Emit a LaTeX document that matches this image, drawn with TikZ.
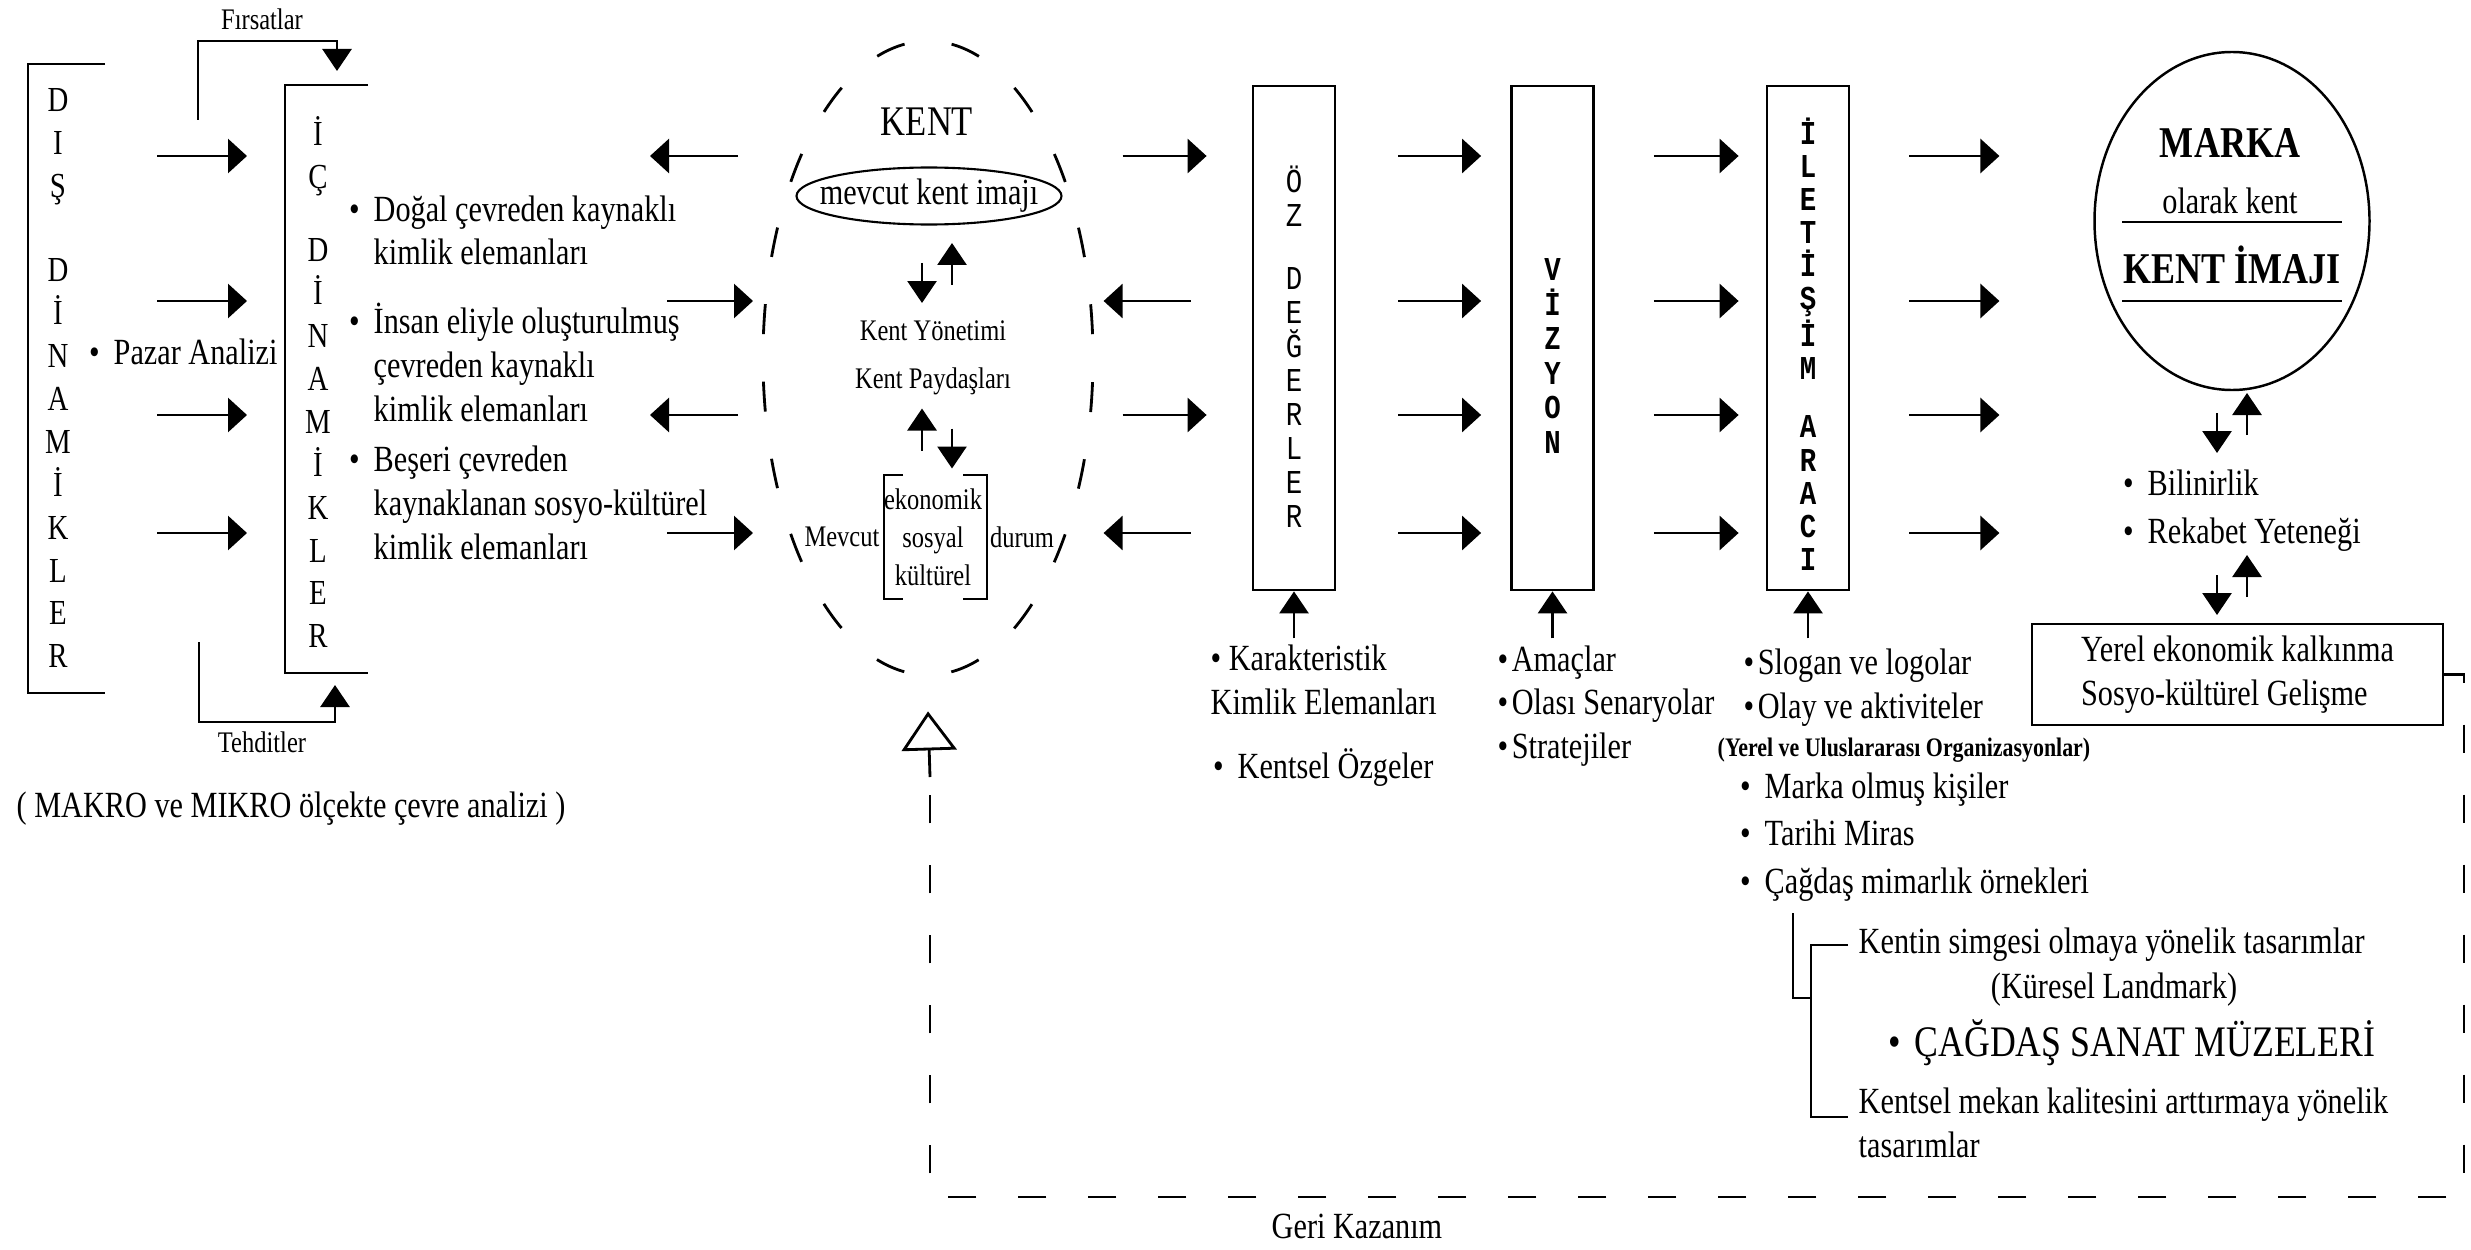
\documentclass[tikz,border=0pt]{standalone}
\usepackage{fontspec}
\setmainfont{Liberation Serif}[FakeStretch=0.82]
\setmonofont{Liberation Mono}[FakeStretch=0.82]
\usetikzlibrary{arrows.meta,positioning,calc,shapes.geometric}
\newcommand{\itembul}{\llap{\textbullet\hspace{4pt}}}
\tikzset{
  txt/.style={inner sep=0pt,align=left,font=\fontsize{10.5}{12.3}\selectfont},
  smalltxt/.style={inner sep=0pt,align=center,font=\fontsize{8.5}{10.8}\selectfont},
  letters/.style={inner sep=0pt,align=center,font=\fontsize{10}{12.2}\selectfont},
  boxletters/.style={inner sep=0pt,align=center,font=\ttfamily\fontsize{9.5}{9.7}\selectfont},
  headtxt/.style={inner sep=0pt,font=\bfseries\fontsize{12.5}{14}\selectfont},
  colbox/.style={rectangle,draw,line width=0.8pt,minimum width=0.82cm,
    minimum height=5.04cm,inner sep=0pt},
  flow/.style={-{Triangle[length=0.19cm,width=0.34cm]},line width=0.8pt},
  vflow/.style={-{Triangle[length=0.22cm,width=0.29cm]},line width=0.8pt},
  brk/.style={line width=0.8pt},
  fbline/.style={line width=0.8pt,dash pattern=on 0.28cm off 0.42cm},
  pics/twoway/.style={code={
    \draw[vflow] (-0.15,0.1) -- (-0.15,-0.3);
    \draw[vflow] (0.15,-0.12) -- (0.15,0.3);
  }},
}

\begin{document}
\begin{tikzpicture}
  \useasboundingbox (0,0) rectangle (24.71,-12.50);

  % rows of the flow arrows
  \foreach \r/\y in {1/1.56,2/3.01,3/4.15,4/5.33}
    \coordinate (row\r) at (0,-\y);

  % outer and inner dynamics
  \draw[brk] (1.05,-0.64) -- (0.28,-0.64) -- (0.28,-6.93) -- (1.05,-6.93);
  \node[letters] (dis) at (0.58,-3.78) {D\\I\\Ş\\[0.42cm]D\\İ\\N\\A\\M\\İ\\K\\L\\E\\R};
  \draw[brk] (3.68,-0.85) -- (2.85,-0.85) -- (2.85,-6.73) -- (3.68,-6.73);
  \node[letters] (ic) at (3.18,-3.82) {İ\\Ç\\[0.31cm]D\\İ\\N\\A\\M\\İ\\K\\L\\E\\R};
  \node[txt,anchor=base west] (pazar) at (1.13,-3.64) {\itembul Pazar Analizi};

  \node[smalltxt] (firsat) at (2.62,-0.19) {Fırsatlar};
  \node[smalltxt] (tehdit) at (2.62,-7.42) {Tehditler};
  \coordinate (fin) at (1.98,-1.20);
  \coordinate (fout) at (3.37,-0.71);
  \coordinate (tin) at (1.99,-6.42);
  \coordinate (tout) at (3.35,-6.85);
  \draw[vflow] (fin) -- ++(0,0.79) -| (fout);
  \draw[vflow] (tin) -- ++(0,-0.80) -| (tout);

  % base of a multi-line node = its last line
  \node[txt,anchor=base west] (dogal) at (3.73,-2.65) {\itembul Doğal çevreden kaynaklı\\kimlik elemanları};
  \node[txt,anchor=base west,font=\fontsize{10.5}{12.5}\selectfont] (insan) at (3.73,-4.21) {\itembul İnsan eliyle oluşturulmuş\\çevreden kaynaklı\\kimlik elemanları};
  \node[txt,anchor=base west,font=\fontsize{10.5}{12.5}\selectfont] (beseri) at (3.73,-5.59) {\itembul Beşeri çevreden\\kaynaklanan sosyo-kültürel\\kimlik elemanları};

  \foreach \r in {1,...,4}
    \draw[flow] ($(row\r)+(1.57,0)$) -- ($(row\r)+(2.47,0)$);
  \foreach \r in {1,3}
    \draw[flow] ($(row\r)+(7.38,0)$) -- ($(row\r)+(6.50,0)$);
  \foreach \r in {2,4}
    \draw[flow] ($(row\r)+(6.67,0)$) -- ($(row\r)+(7.53,0)$);

  % city
  \node[draw,ellipse,minimum width=3.30cm,minimum height=6.34cm,inner sep=0pt,
    line width=0.8pt,dash pattern=on 0.3cm off 0.476cm,dash phase=0.538cm] (kent) at (9.28,-3.58) {};
  \node[inner sep=0pt,font=\fontsize{12}{14}\selectfont] (kenttitle) at (9.27,-1.22) {KENT};
  \node[txt] (imaj) at (9.29,-1.96) {mevcut kent imajı};
  \draw[line width=0.6pt] (imaj) ellipse [x radius=1.325,y radius=0.285];
  \pic at (9.37,-2.73) {twoway};
  \node[smalltxt] (yonetim) at (9.33,-3.31) {Kent Yönetimi};
  \node[smalltxt] (paydas) at (9.33,-3.81) {Kent Paydaşları};
  \pic[xscale=-1] at (9.37,-4.385) {twoway};
  \node[smalltxt] (ekon) at (9.33,-5.37) {ekonomik\\sosyal\\kültürel};
  \draw[line width=0.6pt] (9.03,-4.75) -- (8.84,-4.75) -- (8.84,-5.99) -- (9.03,-5.99);
  \draw[line width=0.6pt] (9.63,-4.75) -- (9.87,-4.75) -- (9.87,-5.99) -- (9.63,-5.99);
  \node[smalltxt] (mevcut) at (8.42,-5.37) {Mevcut};
  \node[smalltxt] (durum) at (10.22,-5.37) {durum};

  % columns
  \node[colbox] (oz) at (12.94,-3.38) {};
  \node[colbox] (viz) at (15.525,-3.38) {};
  \node[colbox] (ilet) at (18.08,-3.38) {};
  \node[boxletters] (ozlet) at (12.94,-3.47) {Ö\\Z\\[0.28cm]D\\E\\Ğ\\E\\R\\L\\E\\R};
  \node[boxletters,font=\ttfamily\bfseries\fontsize{9.5}{9.8}\selectfont] (vizlet) at (15.525,-3.56) {V\\İ\\Z\\Y\\O\\N};
  \node[boxletters,font=\ttfamily\bfseries\fontsize{9.5}{9.4}\selectfont] (iletlet) at (18.08,-3.44) {İ\\L\\E\\T\\İ\\Ş\\İ\\M\\[0.25cm]A\\R\\A\\C\\I};
  \foreach \b in {oz,viz,ilet}
    \draw[vflow] ([yshift=-0.47cm]\b.south) -- (\b.south);

  \foreach \r in {1,3}
    \draw[flow] ($(oz.west |- row\r)+(-1.29,0)$) -- ($(oz.west |- row\r)+(-0.45,0)$);
  \foreach \r in {2,4}
    \draw[flow] ($(oz.west |- row\r)+(-0.61,0)$) -- ($(oz.west |- row\r)+(-1.48,0)$);
  \foreach \r in {1,...,4} {
    \draw[flow] ($(oz.east |- row\r)+(0.62,0)$) -- ($(viz.west |- row\r)+(-0.29,0)$);
    \draw[flow] ($(viz.east |- row\r)+(0.59,0)$) -- ($(ilet.west |- row\r)+(-0.27,0)$);
    \draw[flow] ($(ilet.east |- row\r)+(0.59,0)$) -- ($(ilet.east |- row\r)+(1.49,0)$);
  }

  \node[txt,anchor=base west] (karakter) at (12.10,-7.14) {\textbullet\ Karakteristik\\Kimlik Elemanları};
  \node[txt,anchor=base west] (ozgel) at (12.37,-7.78) {\itembul Kentsel Özgeler};
  \node[txt,anchor=base west] (amac) at (14.97,-7.58) {\textbullet\hspace{1pt}Amaçlar\\\textbullet\hspace{1pt}Olası Senaryolar\\\textbullet\hspace{1pt}Stratejiler};
  \node[txt,anchor=base west] (slogan) at (17.43,-7.18) {\textbullet\hspace{1pt}Slogan ve logolar\\\textbullet\hspace{1pt}Olay ve aktiviteler};
  \node[inner sep=0pt,anchor=base west,font=\bfseries\fontsize{7.6}{9}\selectfont] (org) at (17.17,-7.56) {(Yerel ve Uluslararası Organizasyonlar)};
  \node[txt,anchor=base west,font=\fontsize{10.5}{13.5}\selectfont] (miras) at (17.64,-8.93) {\itembul Marka olmuş kişiler\\\itembul Tarihi Miras\\\itembul Çağdaş mimarlık örnekleri};

  \draw[brk] (17.93,-9.13) |- (18.11,-9.98);
  \draw[brk] (18.48,-9.45) -| (18.11,-11.17) -- (18.48,-11.17);
  \node[txt,anchor=base west] (simge) at (18.58,-9.53) {Kentin simgesi olmaya yönelik tasarımlar};
  \node[txt] (landmark) at (21.14,-9.90) {(Küresel Landmark)};
  \node[inner sep=0pt,anchor=base west,font=\fontsize{12.4}{14}\selectfont] (muze) at (19.14,-10.56) {\itembul ÇAĞDAŞ SANAT MÜZELERİ};
  \node[txt,anchor=base west,font=\fontsize{10.5}{12.5}\selectfont] (mekan) at (18.58,-11.57) {Kentsel mekan kalitesini arttırmaya yönelik\\tasarımlar};

  % brand
  \node[draw,ellipse,minimum width=2.75cm,minimum height=3.38cm,inner sep=0pt,line width=0.7pt] (marka) at (22.32,-2.21) {};
  \node[headtxt] (markatitle) at (22.30,-1.43) {MARKA};
  \node[txt] (olarak) at (22.30,-2.01) {olarak kent};
  \node[headtxt] (imaji) at (22.32,-2.65) {KENT İMAJI};
  \draw[line width=0.6pt] (21.22,-2.22) -- (23.42,-2.22);
  \draw[line width=0.6pt] (21.22,-3.01) -- (23.42,-3.01);
  \pic at (22.32,-4.23) {twoway};
  \node[txt,anchor=base west,font=\fontsize{10.5}{13.6}\selectfont] (bilin) at (21.47,-5.43) {\itembul Bilinirlik\\\itembul Rekabet Yeteneği};
  \pic at (22.32,-5.85) {twoway};
  \node[draw,line width=0.7pt,minimum width=4.11cm,minimum height=1.01cm,inner sep=0pt,
    align=left,font=\fontsize{10.5}{12.6}\selectfont] (yerel) at (22.375,-6.745) {Yerel ekonomik kalkınma\\Sosyo-kültürel Gelişme};

  % feedback
  \coordinate (fbturn) at (24.64,-11.97);
  \coordinate (fbend) at (9.30,-7.77);
  \draw[fbline] (yerel.east) -| (fbturn) -| (fbend);
  \draw[line width=0.8pt,-{Triangle[open,length=0.39cm,width=0.55cm]}] (fbend) -- ([yshift=-0.35cm]kent.south);
  \node[txt] (geri) at (13.57,-12.26) {Geri Kazanım};

  \node[txt,anchor=base west] (makro) at (0.16,-8.17) {( MAKRO ve MIKRO ölçekte çevre analizi )};
\end{tikzpicture}
\end{document}
